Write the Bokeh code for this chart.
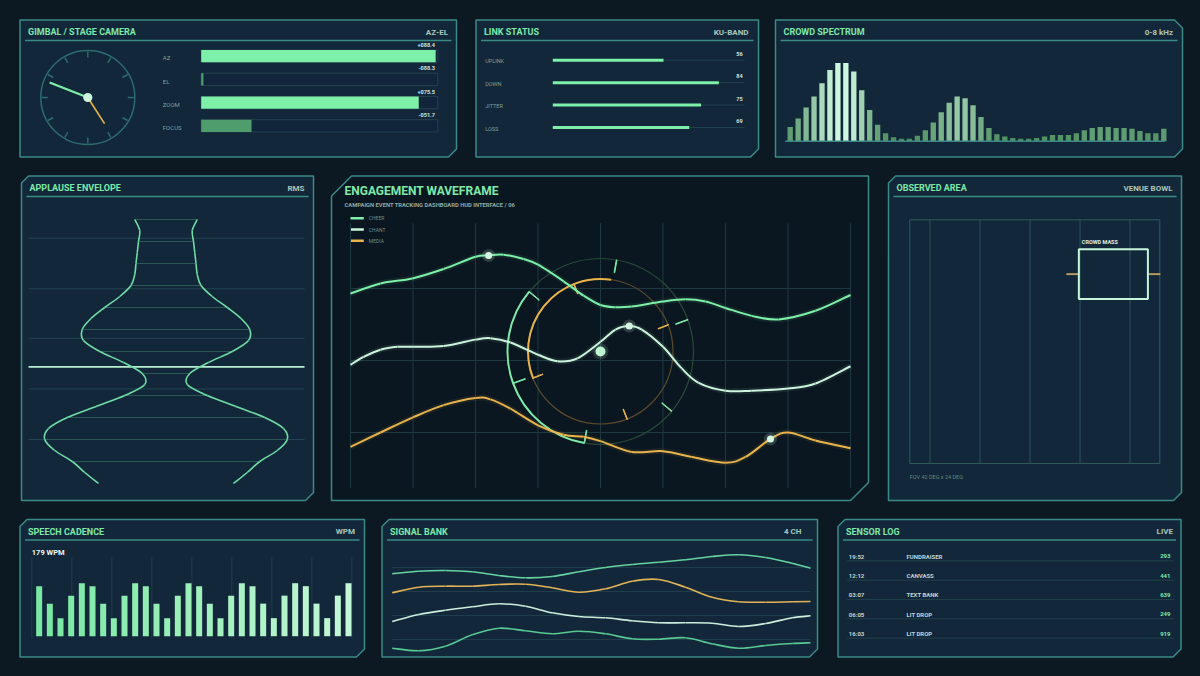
import math
import numpy as np
from bokeh.plotting import figure
from bokeh.models import Range1d
from bokeh.core.properties import value
from bokeh.embed import file_html
from bokeh.resources import INLINE
try:
    from bokeh.models import GlobalInlineStyleSheet
except Exception:
    GlobalInlineStyleSheet = None

# ---------------- data ----------------
gimbal_axes = ["AZ", "EL", "ZOOM", "FOCUS"]
gimbal_values = [88.4, -88.3, 75.5, -51.7]
hand_angles_deg = [158.6, -57.3]
hand_lengths = [41, 31]

link_names = ["UPLINK", "DOWN", "JITTER", "LOSS"]
link_values = [56, 84, 75, 69]

spectrum_levels = [18, 29, 43, 57, 74, 91, 100, 100, 89, 65, 40, 21, 10, 5, 3, 3,
                   7, 14, 24, 37, 49, 57, 55, 46, 31, 17, 9, 6, 4, 3, 3, 4,
                   6, 8, 8, 8, 10, 14, 17, 18, 18, 17, 17, 16, 13, 10, 10, 16]

applause_t = list(range(25))
applause_rms = [0.25, 0.21, 0.22, 0.23, 0.24, 0.25, 0.28, 0.37, 0.49, 0.60, 0.67, 0.66, 0.53,
                0.34, 0.19, 0.17, 0.33, 0.56, 0.79, 0.94, 0.97, 0.89, 0.75, 0.65, 0.54]
applause_level_t = 13.4
applause_grid_t = [1.7, 6.3, 10.8, 15.4, 20.0]

wave_names = ["CHEER", "CHANT", "MEDIA"]
cheer_x = [0, 0.48, 0.99, 1.49, 2.0, 2.21, 2.45, 2.77, 3.0, 3.41, 3.73, 4.0, 4.24, 4.5, 5.0, 5.36, 5.68, 6.0, 6.42, 6.85, 7.44, 8.0]
cheer_y = [2.93, 3.07, 3.14, 3.27, 3.44, 3.46, 3.47, 3.41, 3.33, 3.10, 2.90, 2.77, 2.74, 2.75, 2.82, 2.85, 2.82, 2.73, 2.62, 2.57, 2.69, 2.91]
chant_x = [0, 0.21, 0.48, 0.75, 1.0, 1.49, 2.0, 2.24, 2.56, 3.0, 3.31, 3.63, 4.0, 4.24, 4.46, 4.66, 5.0, 5.3, 5.57, 6.0, 6.42, 7.0, 7.44, 8.0]
chant_y = [1.94, 2.05, 2.15, 2.19, 2.19, 2.20, 2.29, 2.31, 2.25, 2.08, 1.99, 2.03, 2.26, 2.43, 2.48, 2.43, 2.19, 1.89, 1.69, 1.58, 1.58, 1.61, 1.68, 1.92]
media_x = [0, 0.48, 1.0, 1.49, 2.0, 2.24, 2.56, 3.0, 3.41, 3.73, 4.0, 4.5, 5.0, 5.46, 6.0, 6.32, 6.72, 7.0, 7.44, 8.0]
media_y = [0.80, 1.00, 1.21, 1.38, 1.48, 1.46, 1.33, 1.10, 0.97, 0.94, 0.88, 0.73, 0.74, 0.66, 0.58, 0.66, 0.91, 1.00, 0.89, 0.78]
marker_index = [5, 14, 16]
reticle_center = (4.0, 2.125)

fov_w, fov_h = 42, 24
obs_grid_x = [3.4, 11.8, 20.2, 28.6, 37.0]
crowd_x0, crowd_x1, crowd_y0, crowd_y1 = 28.4, 40.0, 16.2, 21.1
crowd_spread = (26.3, 42.1)

cadence_wpm = [169, 110, 61, 137, 179, 169, 110, 61, 137, 179,
               169, 110, 61, 137, 179, 169, 110, 61, 137, 179,
               169, 110, 61, 137, 179, 169, 110, 61, 137, 179]

signal_t = [0, 1, 2, 3, 4, 5, 6, 7, 8, 9, 10, 11, 12, 13, 14, 15, 15.69]
signal_1 = [76.7, 79.3, 80.0, 78.7, 75.0, 72.7, 74.0, 78.7, 83.0, 86.0, 88.3, 90.7, 94.0, 95.7, 93.0, 87.3, 82.3]
signal_2 = [57.7, 63.3, 64.3, 64.3, 66.0, 66.3, 62.7, 58.3, 61.7, 69.3, 71.0, 63.3, 53.3, 48.7, 48.3, 48.7, 49.0]
signal_3 = [29.0, 36.0, 40.3, 43.7, 46.7, 44.3, 37.7, 34.0, 32.7, 29.7, 27.7, 27.7, 27.3, 24.0, 27.0, 32.7, 34.7]
signal_4 = [2.3, -0.3, 4.3, 15.7, 22.3, 19.7, 16.7, 19.3, 16.7, 11.7, 11.3, 12.7, 6.7, 2.3, 5.0, 7.0, 7.7]
signal_grid = [11, 35, 59, 83]

log_time = ["19:52", "12:12", "03:07", "06:05", "16:03"]
log_event = ["FUNDRAISER", "CANVASS", "TEXT BANK", "LIT DROP", "LIT DROP"]
log_count = [293, 441, 639, 249, 919]

# ---------------- style ----------------
FONT = "Roboto"
BG = "#0c1922"
PANEL = "#12283a"
PANEL_DK = "#0a1720"
BORDER = "#3b8a86"
TITLE = "#7ee9a9"
TAG = "#a9c7b9"
LABEL = "#7f9f99"
MINT = "#7df0a9"
PALE = "#cbf5dd"
ORANGE = "#e9b44c"
GRIDC = "#1d3841"

W, H = 1184, 660
X0, Y0 = 8, 8

p = figure(width=W, height=H, x_range=Range1d(X0, X0 + W), y_range=Range1d(Y0 + H, Y0),
           output_backend="svg", toolbar_location=None, min_border=0,
           x_axis_location=None, y_axis_location=None,
           background_fill_color=BG, border_fill_color=BG, outline_line_color=None)
p.grid.visible = False
if GlobalInlineStyleSheet is not None:
    p.stylesheets = [GlobalInlineStyleSheet(
        css="html{margin:0;padding:0;background:%s;} body{margin:8px;padding:0;background:%s;overflow:hidden;}" % (BG, BG))]

xr, yr = {}, {}


def scale(name, xa, xb, dx0, dx1, yb, yt, dy0, dy1):
    sx = (dx1 - dx0) / (xb - xa)
    xr[name] = Range1d(start=dx0 + (X0 - xa) * sx, end=dx0 + (X0 + W - xa) * sx)
    sy = (dy1 - dy0) / (yb - yt)
    yr[name] = Range1d(start=dy0 + (yb - (Y0 + H)) * sy, end=dy0 + (yb - Y0) * sy)


scale("clock", 37.3, 137.3, -50, 50, 147, 47, -50, 50)
scale("gim", 200.7, 437.3, -90, 90, 125.3, 55.7, 3, 0)
scale("link", 552.3, 750, 0, 100, 127, 59.7, 3, 0)
scale("spec", 789.7, 1163.3, 0, 47, 140.7, 62.4, 0, 100)
scale("app", 40.5, 290.5, -1, 1, 483, 219, 24, 0)
scale("eng", 350, 850, 0, 8, 504, 216, 0, 4)
scale("obs", 909.3, 1159.3, 0, fov_w, 463, 219.3, 0, fov_h)
scale("spch", 38.67, 348, 0, 29, 635.7, 582.7, 0, 179)
scale("sig", 391.7, 810, 0, 15.69, 650, 550, 0, 100)
p.extra_x_ranges = xr
p.extra_y_ranges = yr


def R(name):
    return dict(x_range_name=name, y_range_name=name)


def T(x, y, s, size, color, bold=True, align="left", name=None, xo=0, yo=0, font=FONT):
    kw = R(name) if name else {}
    xs = x if isinstance(x, (list, tuple)) else [x]
    ys = y if isinstance(y, (list, tuple)) else [y]
    ss = s if isinstance(s, (list, tuple)) else [s]
    p.text(x=list(xs), y=list(ys), text=list(ss), text_font=value(font),
           text_font_size="%spx" % size, text_font_style="bold" if bold else "normal",
           text_color=color, text_align=align, text_baseline="middle",
           x_offset=xo, y_offset=yo, **kw)


def lerp(c1, c2, t):
    t = max(0.0, min(1.0, t))
    a = [int(c1[i:i + 2], 16) for i in (1, 3, 5)]
    b = [int(c2[i:i + 2], 16) for i in (1, 3, 5)]
    return "#%02x%02x%02x" % tuple(int(round(a[k] + (b[k] - a[k]) * t)) for k in range(3))


def smooth(xs, ys, name, **kw):
    n = len(xs)
    d = {k: [] for k in ("x0", "y0", "x1", "y1", "cx0", "cy0", "cx1", "cy1")}
    for i in range(n - 1):
        xp, yp = (xs[i - 1], ys[i - 1]) if i > 0 else (xs[i], ys[i])
        xn, yn = (xs[i + 2], ys[i + 2]) if i + 2 < n else (xs[i + 1], ys[i + 1])
        d["x0"].append(xs[i]); d["y0"].append(ys[i])
        d["x1"].append(xs[i + 1]); d["y1"].append(ys[i + 1])
        d["cx0"].append(xs[i] + (xs[i + 1] - xp) / 6.0)
        d["cy0"].append(ys[i] + (ys[i + 1] - yp) / 6.0)
        d["cx1"].append(xs[i + 1] - (xn - xs[i]) / 6.0)
        d["cy1"].append(ys[i + 1] - (yn - ys[i]) / 6.0)
    p.bezier(**d, **R(name), **kw)


# ---------------- panels ----------------
panels = [
    (19.5, 19.5, 456, 156.5, 0, 0, 8, 0, PANEL),
    (475.5, 19.5, 758, 156.5, 0, 0, 8, 0, PANEL),
    (775, 19.5, 1182, 156.5, 0, 8, 8, 0, PANEL),
    (21, 175.5, 313, 500, 7, 0, 8, 0, PANEL),
    (331, 175.5, 868, 500, 20, 0, 18, 0, PANEL_DK),
    (888, 175.5, 1181, 500, 7, 0, 8, 0, PANEL),
    (19.5, 519, 364, 656.5, 7, 0, 8, 0, PANEL),
    (381.5, 519, 817, 656.5, 7, 0, 8, 0, PANEL),
    (837.5, 519, 1180.5, 656.5, 7, 0, 8, 0, PANEL),
]
for (a, b, c, d, tl, tr, br, bl, fc) in panels:
    pts = []
    pts += [(a, b + tl), (a + tl, b)] if tl else [(a, b)]
    pts += [(c - tr, b), (c, b + tr)] if tr else [(c, b)]
    pts += [(c, d - br), (c - br, d)] if br else [(c, d)]
    pts += [(a + bl, d), (a, d - bl)] if bl else [(a, d)]
    p.patch([q[0] for q in pts], [q[1] for q in pts], fill_color=fc,
            line_color=BORDER, line_width=1.5)

headers = [
    (19.5, 19.5, 456, "GIMBAL / STAGE CAMERA", "AZ-EL", 447.5),
    (475.5, 19.5, 758, "LINK STATUS", "KU-BAND", 748),
    (775, 19.5, 1182, "CROWD SPECTRUM", "0-8 kHz", 1172.5),
    (21, 175.5, 313, "APPLAUSE ENVELOPE", "RMS", 304),
    (888, 175.5, 1181, "OBSERVED AREA", "VENUE BOWL", 1172),
    (19.5, 519, 364, "SPEECH CADENCE", "WPM", 354.5),
    (381.5, 519, 817, "SIGNAL BANK", "4 CH", 801),
    (837.5, 519, 1180.5, "SENSOR LOG", "LIVE", 1172.5),
]
for (a, b, c, title, tag, tx) in headers:
    p.segment(x0=[a + 5], y0=[b + 20.5], x1=[c - 5], y1=[b + 20.5], line_color=BORDER, line_width=1.5)
    T(a + 8, b + 12.2, title, 9, TITLE)
    T(tx, b + 12.2, tag, 8, TAG, align="right")

# ---------------- gimbal ----------------
p.circle(x=[0], y=[0], radius=47, fill_color=None, line_color="#2e6b6b", line_width=1.5, **R("clock"))
ta = np.radians(np.arange(12) * 30.0)
p.segment(x0=list(40 * np.cos(ta)), y0=list(40 * np.sin(ta)), x1=list(46 * np.cos(ta)),
          y1=list(46 * np.sin(ta)), line_color="#2e6b6b", line_width=1.5, **R("clock"))
p.ray(x=[0, 0], y=[0, 0], length=hand_lengths, angle=hand_angles_deg, angle_units="deg",
      line_color=[MINT, ORANGE], line_width=[2.2, 1.6], **R("clock"))
p.circle(x=[0], y=[0], radius=4.6, fill_color=PALE, line_color=None, **R("clock"))

rows = list(range(len(gimbal_axes)))
p.hbar(y=rows, left=-90, right=90, height=0.53, fill_color="#10253a", line_color="#24404e",
       line_width=1, **R("gim"))
p.hbar(y=rows, left=-90, right=gimbal_values, height=0.53,
       fill_color=[MINT if v > 0 else "#4f9d6d" for v in gimbal_values], line_color=None, **R("gim"))
T([90] * 4, rows, ["%+06.1f" % v for v in gimbal_values], 5.5, "#d3e3dc", align="right",
  name="gim", xo=-3, yo=-11)
T([-90] * 4, rows, gimbal_axes, 6, LABEL, bold=False, name="gim", xo=-38.4, yo=1.6)

# ---------------- link status ----------------
lrows = list(range(len(link_names)))
p.segment(x0=[0] * 4, y0=lrows, x1=[97] * 4, y1=lrows, line_color="#21404c", line_width=1, **R("link"))
p.segment(x0=[0] * 4, y0=lrows, x1=link_values, y1=lrows, line_color=MINT, line_width=3, **R("link"))
T([96] * 4, lrows, [str(v) for v in link_values], 5.5, "#d3e3dc", align="right", name="link", yo=-6.5)
T([0] * 4, lrows, link_names, 5.5, LABEL, bold=False, name="link", xo=-67.6, yo=1.2)

# ---------------- crowd spectrum ----------------
sx = list(range(len(spectrum_levels)))
p.vbar(x=sx, top=spectrum_levels, bottom=0, width=0.67,
       fill_color=[lerp("#4a8a5c", "#cdf7de", v / 100.0) for v in spectrum_levels], line_color=None, **R("spec"))
p.segment(x0=[-0.63], y0=[0], x1=[47.1], y1=[0], line_color=BORDER, line_width=1.5, **R("spec"))

# ---------------- applause envelope ----------------
p.segment(x0=[-1.1] * len(applause_grid_t), y0=applause_grid_t, x1=[1.108] * len(applause_grid_t),
          y1=applause_grid_t, line_color="#234452", line_width=1, **R("app"))
rung_t = applause_t[0:24:2]
rung_r = applause_rms[0:24:2]
p.segment(x0=[-r for r in rung_r], y0=rung_t, x1=rung_r, y1=rung_t, line_color="#2b5854",
          line_width=1, **R("app"))
p.segment(x0=[-1.1], y0=[applause_level_t], x1=[1.108], y1=[applause_level_t], line_color="#b9eed2",
          line_width=1.6, **R("app"))
smooth([-r for r in applause_rms], applause_t, "app", line_color="#6fdca6", line_width=1.6)
smooth(applause_rms, applause_t, "app", line_color="#6fdca6", line_width=1.6)

# ---------------- engagement waveframe ----------------
T(344, 190.7, "ENGAGEMENT WAVEFRAME", 12, TITLE)
T(344, 204.3, "CAMPAIGN EVENT TRACKING DASHBOARD HUD INTERFACE / 06", 5.8, "#93aaa3")
wave_colors = [MINT, PALE, ORANGE]
leg_y = [217.7, 229, 240.3]
p.segment(x0=[350] * 3, y0=leg_y, x1=[363.3] * 3, y1=leg_y, line_color=wave_colors, line_width=2.5)
T([368.3] * 3, leg_y, wave_names, 5, "#6f8f87", bold=False)

gx = list(range(9))
p.segment(x0=gx, y0=[3.907] * 9, x1=gx, y1=[0.226] * 9, line_color=GRIDC, line_width=1, **R("eng"))
p.segment(x0=[0] * 3, y0=[1, 2, 3], x1=[8] * 3, y1=[1, 2, 3], line_color=GRIDC, line_width=1, **R("eng"))

cx, cy = reticle_center
p.scatter(x=[cx], y=[cy], size=186, marker="circle", fill_color=None, line_color="#29493b", line_width=1.2, **R("eng"))
p.scatter(x=[cx], y=[cy], size=145, marker="circle", fill_color=None, line_color="#5a4a2d", line_width=1.2, **R("eng"))
p.arc(x=[cx], y=[cy], radius=93, radius_units="screen", start_angle=math.radians(140),
      end_angle=math.radians(260), line_color="#7ee9a9", line_width=2, **R("eng"))
p.arc(x=[cx], y=[cy], radius=72.5, radius_units="screen", start_angle=math.radians(81.5),
      end_angle=math.radians(201.5), line_color=ORANGE, line_width=2, **R("eng"))
ga = [math.radians(20 + 60 * k) for k in range(6)]
p.annular_wedge(x=[cx] * 6, y=[cy] * 6, inner_radius=80, outer_radius=93, inner_radius_units="screen",
                outer_radius_units="screen", start_angle=[a - 0.004 for a in ga], end_angle=[a + 0.004 for a in ga],
                fill_color="#7ee9a9", line_color="#7ee9a9", line_width=1, **R("eng"))
oa = [math.radians(21.5 + 90 * k) for k in range(4)]
p.annular_wedge(x=[cx] * 4, y=[cy] * 4, inner_radius=62, outer_radius=73, inner_radius_units="screen",
                outer_radius_units="screen", start_angle=[a - 0.005 for a in oa], end_angle=[a + 0.005 for a in oa],
                fill_color=ORANGE, line_color=ORANGE, line_width=1, **R("eng"))

series = [(cheer_x, cheer_y), (chant_x, chant_y), (media_x, media_y)]
for (xs, ys), col in zip(series, wave_colors):
    smooth(xs, ys, "eng", line_color=col, line_width=6, line_alpha=0.08)
    smooth(xs, ys, "eng", line_color=col, line_width=2)
mx = [series[i][0][marker_index[i]] for i in range(3)]
my = [series[i][1][marker_index[i]] for i in range(3)]
p.scatter(x=mx, y=my, size=13, marker="circle", fill_color=PALE, fill_alpha=0.18, line_color=None, **R("eng"))
p.scatter(x=mx, y=my, size=7, marker="circle", fill_color="#d6f8e2", line_color=None, **R("eng"))
p.scatter(x=[cx], y=[cy], size=16, marker="circle", fill_color=PALE, fill_alpha=0.15, line_color=None, **R("eng"))
p.scatter(x=[cx], y=[cy], size=10, marker="circle", fill_color="#bff6d2", line_color=None, **R("eng"))

# ---------------- observed area ----------------
p.quad(left=[0], right=[fov_w], bottom=[0], top=[fov_h], fill_color=None, line_color="#2d5a59", line_width=1, **R("obs"))
p.segment(x0=obs_grid_x, y0=[0] * 5, x1=obs_grid_x, y1=[fov_h] * 5, line_color="#2a5553", line_width=1, **R("obs"))
cmy = (crowd_y0 + crowd_y1) / 2.0
p.segment(x0=[crowd_spread[0], crowd_x1], y0=[cmy, cmy], x1=[crowd_x0, crowd_spread[1]], y1=[cmy, cmy],
          line_color="#b39a5e", line_width=2, **R("obs"))
p.quad(left=[crowd_x0], right=[crowd_x1], bottom=[crowd_y0], top=[crowd_y1], fill_color=None,
       line_color="#c8f5dc", line_width=2, **R("obs"))
T(crowd_x0, crowd_y1, "CROWD MASS", 5.5, "#e2efe8", name="obs", xo=3, yo=-7)
T(0, 0, "FOV %d DEG x %d DEG" % (fov_w, fov_h), 5.5, "#5f8882", bold=False, name="obs", yo=13.7)

# ---------------- speech cadence ----------------
vx = [31.3 + 40 * k for k in range(9)]
p.segment(x0=vx, y0=[556.7] * 9, x1=vx, y1=[638.3] * 9, line_color="#1e3a47", line_width=1)
cx_idx = list(range(len(cadence_wpm)))
p.vbar(x=cx_idx, top=cadence_wpm, bottom=0, width=0.5625,
       fill_color=[lerp("#78e8a2", "#c4f7d6", i / 29.0) for i in cx_idx], line_color=None, **R("spch"))
T(31.3, 551.7, "%d WPM" % max(cadence_wpm), 7.5, "#eef6f2")

# ---------------- signal bank ----------------
ng = len(signal_grid)
p.segment(x0=[0] * ng, y0=signal_grid, x1=[15.69] * ng, y1=signal_grid, line_color="#1f3d4a", line_width=1, **R("sig"))
for ys, col in zip([signal_1, signal_2, signal_3, signal_4], ["#66d3a2", "#e2b357", "#cdeedd", "#58c894"]):
    smooth(signal_t, ys, "sig", line_color=col, line_width=1.6)

# ---------------- sensor log ----------------
ly = [555.7 + 19.33 * i for i in range(len(log_time))]
p.segment(x0=[846.7] * 5, y0=[v + 4.6 for v in ly], x1=[1173.3] * 5, y1=[v + 4.6 for v in ly],
          line_color="#22404c", line_width=1)
T([848.3] * 5, ly, log_time, 6, "#c5d3cf")
T([906] * 5, ly, log_event, 6, "#c5d3cf")
T([1170] * 5, ly, [str(v) for v in log_count], 6, TITLE, align="right")

open("out.html", "w").write(file_html(p, INLINE))
